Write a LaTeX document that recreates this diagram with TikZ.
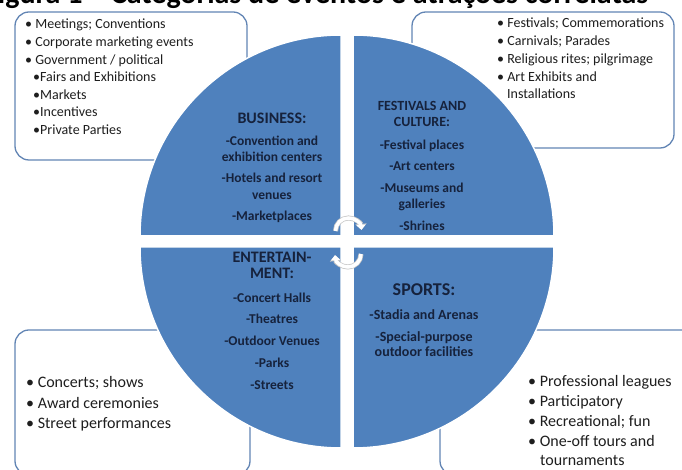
\documentclass[tikz,border=0pt]{standalone}
\usepackage{fontspec}
\setmainfont{Carlito}
\usetikzlibrary{arrows.meta}
\definecolor{quadblue}{RGB}{79,129,189}
\definecolor{boxline}{RGB}{98,133,180}
\definecolor{quadtext}{RGB}{22,34,60}
\definecolor{listtext}{RGB}{30,30,30}

\begin{document}
\begin{tikzpicture}[x=1pt,y=1pt,
  quad/.style={fill=quadblue, draw=white, line width=1.5pt},
  cbox/.style={draw=boxline, line width=1.3pt, fill=white, rounded corners=14pt},
  item/.style={anchor=base west, inner sep=0pt, text=listtext, font=\fontsize{14}{17}\selectfont},
  bigitem/.style={item, font=\fontsize{16}{19}\selectfont},
  qhead/.style={anchor=base, inner sep=0pt, text=quadtext, font=\bfseries\fontsize{16}{19}\selectfont},
  qitem/.style={anchor=base, inner sep=0pt, text=quadtext, font=\bfseries\fontsize{13.5}{16}\selectfont},
  cycarrow/.style={white, line width=3.5pt, -{Triangle[length=5pt,width=9pt]}},
  cycshade/.style={gray!45, line width=5pt, -{Triangle[length=6pt,width=11pt]}}
]
\useasboundingbox (0,0) rectangle (682,470);
\clip (0,0) rectangle (682,470);

% caption line, mostly above the page
\node[anchor=base west, inner sep=0pt, font=\bfseries\fontsize{30}{33}\selectfont] (title) at (-16,466.5)
  {Figura 1 – Categorias de eventos e atrações correlatas};

% corner boxes (behind the wheel)
\draw[cbox] (15,310) rectangle (247,458);
\draw[cbox] (412,322) rectangle (674,458);
\draw[cbox] (15,-5) rectangle (250,140);
\draw[cbox] (440,-5) rectangle (695,140);

% four quarter discs
\draw[quad] (341,234) -- (140,234) arc[start angle=180, end angle=90, radius=201] -- cycle;
\draw[quad] (353,234) -- (353,435) arc[start angle=90, end angle=0, radius=201] -- cycle;
\draw[quad] (341,223) -- (140,223) arc[start angle=180, end angle=270, radius=201] -- cycle;
\draw[quad] (353,223) -- (554,223) arc[start angle=0, end angle=-90, radius=201] -- cycle;

% cycle arrows in the middle
\draw[cycshade] (335.5,239) arc[start angle=180, end angle=5, radius=13];
\draw[cycarrow] (335.5,239) arc[start angle=180, end angle=5, radius=13];
\draw[cycshade] (361,216) arc[start angle=0, end angle=-175, radius=13];
\draw[cycarrow] (361,216) arc[start angle=0, end angle=-175, radius=13];

% business box
\node[item] (b1) at (25,441) {• Meetings; Conventions};
\node[item] (b2) at (25,423) {• Corporate marketing events};
\node[item] (b3) at (25,405) {• Government / political};
\node[item] (b4) at (33,388) {•Fairs and Exhibitions};
\node[item] (b5) at (33,370.5) {•Markets};
\node[item] (b6) at (33,353) {•Incentives};
\node[item] (b7) at (33,335.5) {•Private Parties};

% festivals box
\node[item] (f1) at (497,442) {• Festivals; Commemorations};
\node[item] (f2) at (497,424) {• Carnivals; Parades};
\node[item] (f3) at (497,406) {• Religious rites; pilgrimage};
\node[item] (f4) at (497,388) {• Art Exhibits and};
\node[item] (f5) at (507,371) {Installations};

% entertainment box
\node[bigitem] (e1) at (26,82) {• Concerts; shows};
\node[bigitem] (e2) at (26,61) {• Award ceremonies};
\node[bigitem] (e3) at (26,41) {• Street performances};

% sports box
\node[bigitem] (s1) at (528,83) {• Professional leagues};
\node[bigitem] (s2) at (528,63) {• Participatory};
\node[bigitem] (s3) at (528,43) {• Recreational; fun};
\node[bigitem] (s4) at (528,23) {• One-off tours and};
\node[bigitem] (s5) at (540,4.5) {tournaments};

% business quarter
\node[qhead] (qb0) at (272,346) {BUSINESS:};
\node[qitem] (qb1) at (272,324) {-Convention and};
\node[qitem] (qb2) at (272,308) {exhibition centers};
\node[qitem] (qb3) at (272,287) {-Hotels and resort};
\node[qitem] (qb4) at (272,270) {venues};
\node[qitem] (qb5) at (272,249) {-Marketplaces};

% festivals quarter
\node[qhead, font=\bfseries\fontsize{14}{17}\selectfont] (qf0) at (422,359) {FESTIVALS AND};
\node[qhead, font=\bfseries\fontsize{14}{17}\selectfont] (qf1) at (422,343) {CULTURE:};
\node[qitem] (qf2) at (422,320) {-Festival places};
\node[qitem] (qf3) at (422,299) {-Art centers};
\node[qitem] (qf4) at (422,277) {-Museums and};
\node[qitem] (qf5) at (422,261) {galleries};
\node[qitem] (qf6) at (422,239) {-Shrines};

% entertainment quarter
\node[qhead] (qe0) at (272,207.5) {ENTERTAIN-};
\node[qhead] (qe1) at (272,191.5) {MENT:};
\node[qitem] (qe2) at (272,167) {-Concert Halls};
\node[qitem] (qe3) at (272,146) {-Theatres};
\node[qitem] (qe4) at (272,124) {-Outdoor Venues};
\node[qitem] (qe5) at (272,102) {-Parks};
\node[qitem] (qe6) at (272,80) {-Streets};

% sports quarter
\node[qhead, font=\bfseries\fontsize{18}{21}\selectfont] (qs0) at (424,174) {SPORTS:};
\node[qitem, font=\bfseries\fontsize{14}{17}\selectfont] (qs1) at (424,150) {-Stadia and Arenas};
\node[qitem, font=\bfseries\fontsize{14}{17}\selectfont] (qs2) at (424,128) {-Special-purpose};
\node[qitem, font=\bfseries\fontsize{14}{17}\selectfont] (qs3) at (424,113) {outdoor facilities};
\end{tikzpicture}
\end{document}
